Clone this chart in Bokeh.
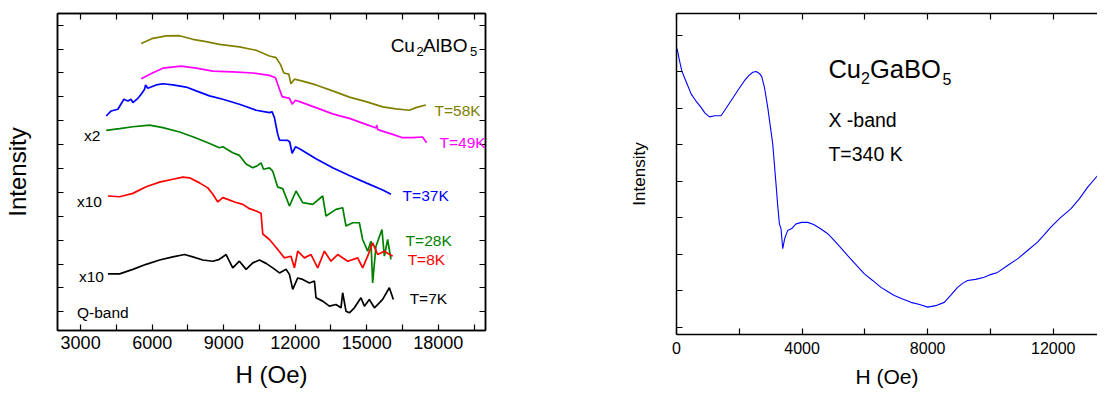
from bokeh.plotting import figure
from bokeh.models import Label, LinearAxis, FixedTicker, Range1d, CustomJSTickFormatter
from bokeh.layouts import row
from bokeh.embed import file_html
from bokeh.resources import INLINE

FONT = "Liberation Sans"

# ---------------- Left panel: Cu2AlBO5, Q-band (H in Oe, intensity arb. units, offset) -------------
h_58 = [5540, 6030, 6590, 7150, 7705, 8260, 8820, 9660, 10360, 10920, 11200, 11390, 11520, 11730,
        11820, 11970, 12310, 12870, 13570, 14270, 14970, 15670, 16220, 16790, 17060, 17480]
i_58 = [11.23, 11.45, 11.55, 11.56, 11.41, 11.31, 11.20, 11.09, 10.95, 10.71, 10.64, 10.34, 10.00, 9.95,
        9.55, 9.74, 9.66, 9.50, 9.25, 8.99, 8.80, 8.58, 8.50, 8.44, 8.55, 8.66]

h_49 = [5540, 6030, 6450, 7215, 7845, 8545, 9380, 10220, 10920, 11170, 11340, 11450, 11760, 11870,
        12010, 12180, 12870, 13570, 14270, 14970, 15390, 15415, 15460, 16090, 16500, 16920, 17340, 17510]
i_49 = [9.76, 10.01, 10.20, 10.29, 10.20, 10.08, 10.05, 10.00, 9.90, 9.80, 9.32, 9.01, 8.94, 8.69,
        8.86, 8.80, 8.55, 8.29, 8.10, 7.85, 7.70, 7.82, 7.63, 7.43, 7.29, 7.29, 7.32, 7.08]

h_37 = [4073, 4282, 4563, 4814, 4982, 5120, 5191, 5401, 5540, 5682, 5724, 5820, 6168, 6450, 6867,
        7425, 7845, 8405, 8962, 9660, 10360, 10920, 11028, 11129, 11196, 11267, 11340, 11686, 11770,
        11870, 12010, 12180, 12870, 13570, 14270, 14970, 15670, 16014]
i_37 = [8.20, 8.41, 8.48, 8.90, 8.83, 8.90, 8.76, 8.94, 9.11, 9.32, 9.50, 9.36, 9.50, 9.55, 9.50,
        9.41, 9.25, 9.04, 8.90, 8.69, 8.44, 8.34, 8.38, 8.13, 7.78, 7.43, 7.19, 7.18, 7.11,
        6.64, 6.91, 6.83, 6.41, 6.03, 5.71, 5.40, 5.10, 4.92]

h_28 = [4073, 4634, 5191, 5891, 6450, 7150, 7705, 8260, 8820, 8962, 9380, 9660, 9939, 10220, 10429,
        10567, 10668, 10920, 11057, 11267, 11476, 11757, 12034, 12314, 12733, 13152, 13291, 13710,
        13990, 14129, 14409, 14690, 14828, 15038, 15176, 15247, 15386, 15637, 15738, 15876, 16014]
i_28 = [7.60, 7.67, 7.75, 7.82, 7.71, 7.53, 7.33, 7.11, 6.87, 6.91, 6.66, 6.55, 6.19, 6.03, 6.13,
        6.24, 5.97, 6.03, 5.89, 5.22, 5.16, 4.43, 5.06, 4.57, 4.50, 4.85, 4.01, 4.29,
        4.36, 3.59, 3.73, 3.73, 3.03, 2.54, 2.96, 1.21, 2.75, 3.45, 2.33, 3.03, 2.20]

h_8 = [4144, 4634, 5191, 5749, 6310, 6867, 7286, 7567, 7986, 8334, 8545, 8753, 8962, 9172, 9453,
       9800, 10081, 10360, 10567, 10638, 10920, 11267, 11548, 11824, 11967, 12105, 12386, 12662,
       12943, 13224, 13500, 13781, 14200, 14619, 14828, 15038, 15247, 15457, 15738, 16085]
i_8 = [4.85, 4.82, 4.96, 5.24, 5.43, 5.55, 5.64, 5.61, 5.40, 5.19, 4.92, 4.60, 4.78, 4.71, 4.60,
       4.50, 4.32, 4.22, 4.13, 3.26, 3.03, 2.61, 2.26, 2.33, 1.84, 2.54, 2.26, 2.40,
       1.84, 2.54, 2.12, 2.40, 2.12, 2.26, 1.84, 2.33, 2.89, 2.40, 2.54, 2.33]

h_7 = [4144, 4634, 5191, 5749, 6310, 6867, 7358, 7705, 8124, 8545, 8820, 9101, 9380, 9660, 9939,
       10220, 10500, 10777, 11057, 11340, 11615, 11757, 11895, 12105, 12314, 12595, 12805, 12872,
       13152, 13433, 13710, 13919, 13990, 14129, 14270, 14481, 14757, 14900, 15109, 15319, 15528,
       15666, 15947, 16115]
i_7 = [1.59, 1.59, 1.78, 1.99, 2.17, 2.30, 2.40, 2.30, 2.17, 2.12, 2.20, 2.40, 1.84, 2.12, 1.78,
       2.05, 2.17, 2.03, 1.84, 1.63, 1.78, 1.57, 0.94, 1.42, 1.36, 1.21, 1.29, 0.59,
       0.45, 0.24, 0.31, 0.17, 0.80, 0.03, -0.04, 0.17, 0.59, 0.24, 0.52, 0.17, 0.38,
       0.52, 1.01, 0.52]

left_series = [
    (h_58, i_58, "#808000", "T=58K", 17845, 8.45),
    (h_49, i_49, "#ff00ff", "T=49K", 18055, 7.07),
    (h_37, i_37, "#0000ff", "T=37K", 16504, 4.89),
    (h_28, i_28, "#008000", "T=28K", 16630, 3.00),
    (h_8, i_8, "#ff0000", "T=8K", 16714, 2.21),
    (h_7, i_7, "#000000", "T=7K", 16798, 0.57),
]

left_xticks = [3000, 6000, 9000, 12000, 15000, 18000]
left_xminor = [4500, 7500, 10500, 13500, 16500, 19500]
left_yticks = list(range(13))

# ---------------- Right panel: Cu2GaBO5, X-band, T=340 K ----------------
h_ga = [20, 95, 169, 255, 360, 465, 614, 783, 901, 1050, 1219, 1420, 1569, 1738, 1951, 2164, 2301,
        2429, 2534, 2642, 2715, 2801, 2906, 2986, 3065, 3170, 3224, 3278, 3329, 3384, 3447, 3543,
        3670, 3807, 3988, 4179, 4370, 4603, 4816, 5029, 5230, 5452, 5707, 5984, 6248, 6512, 6726,
        6939, 7203, 7467, 7744, 7999, 8254, 8530, 8731, 8954, 9113, 9272, 9527, 9804, 10004, 10227,
        10545, 10864, 11182, 11500, 11723, 11924, 12232, 12560, 12837, 13092, 13410, 13674]
i_ga = [7.63, 7.30, 7.02, 6.83, 6.61, 6.39, 6.20, 6.02, 5.87, 5.76, 5.79, 5.79, 5.98, 6.20, 6.48,
        6.75, 6.89, 6.98, 7.00, 6.95, 6.86, 6.57, 6.02, 5.52, 5.02, 3.92, 3.33, 2.83, 2.70, 2.15,
        2.43, 2.65, 2.70, 2.83, 2.87, 2.87, 2.81, 2.69, 2.56, 2.37, 2.18, 1.96, 1.72, 1.46, 1.28,
        1.09, 0.98, 0.87, 0.77, 0.68, 0.62, 0.55, 0.59, 0.68, 0.87, 1.09, 1.20, 1.28, 1.31, 1.37,
        1.44, 1.50, 1.69, 1.87, 2.10, 2.33, 2.54, 2.74, 3.00, 3.24, 3.52, 3.83, 4.15, 4.33]

right_xticks = [0, 4000, 8000, 12000]
right_xminor = [2000, 6000, 10000]
right_yticks = list(range(9))


def style_axis(ax, tick_font="18px", labels=True):
    ax.axis_line_color = "black"
    ax.axis_line_width = 1.5
    ax.major_tick_in = 6
    ax.major_tick_out = 0
    ax.minor_tick_in = 6
    ax.minor_tick_out = 0
    ax.major_tick_line_width = 1.2
    ax.minor_tick_line_width = 1.2
    ax.major_tick_line_color = "black"
    ax.minor_tick_line_color = "black"
    ax.major_label_text_font = FONT
    ax.major_label_text_color = "black"
    ax.axis_label_text_font = FONT
    ax.axis_label_text_font_style = "normal"
    ax.axis_label_text_color = "black"
    if labels:
        ax.major_label_text_font_size = tick_font
    else:
        ax.formatter = CustomJSTickFormatter(code="return ''")
        ax.major_label_text_font_size = "0px"
        ax.major_label_standoff = 0


# ---------------- Left figure ----------------
p1 = figure(frame_width=428, frame_height=317, x_range=Range1d(2030, 19980),
            y_range=Range1d(-0.78, 12.49), min_border_left=54, min_border_right=112,
            min_border_top=13, min_border_bottom=60, output_backend="svg",
            toolbar_location=None, background_fill_color="white", border_fill_color="white")
p1.grid.visible = False
p1.outline_line_color = "black"
p1.outline_line_width = 1.5

p1.xaxis.ticker = FixedTicker(ticks=left_xticks, minor_ticks=left_xminor)
p1.yaxis.ticker = FixedTicker(ticks=left_yticks, minor_ticks=[])
style_axis(p1.xaxis[0], "18px", True)
p1.xaxis.axis_label = "H (Oe)"
p1.xaxis.axis_label_text_font_size = "24px"
p1.xaxis.major_label_standoff = 5
p1.xaxis.axis_label_standoff = 9
style_axis(p1.yaxis[0], labels=False)
p1.yaxis.axis_label = "Intensity"
p1.yaxis.axis_label_text_font_size = "24px"
p1.yaxis.axis_label_standoff = 27

top1 = LinearAxis(ticker=FixedTicker(ticks=left_xticks, minor_ticks=left_xminor))
style_axis(top1, labels=False)
p1.add_layout(top1, "above")
right1 = LinearAxis(ticker=FixedTicker(ticks=left_yticks, minor_ticks=[]))
style_axis(right1, labels=False)
p1.add_layout(right1, "right")

for hx, iy, col, lab, lx, ly in left_series:
    p1.line(hx, iy, line_color=col, line_width=1.7)
    p1.add_layout(Label(x=lx, y=ly, text=lab, text_color=col, text_font=FONT,
                        text_font_size="15.5px", text_baseline="middle", text_align="left"))

for txt, lx, ly in [("x2", 3138, 7.40), ("x10", 2845, 4.64), ("x10", 2929, 1.50), ("Q-band", 2845, -0.01)]:
    p1.add_layout(Label(x=lx, y=ly, text=txt, text_color="black", text_font=FONT,
                        text_font_size="15.5px", text_baseline="middle", text_align="left"))

for txt, lx, ly, fs in [("Cu", 16002, 11.16, "19px"), ("2", 17091, 10.89, "13px"),
                        ("AlBO", 17363, 11.16, "19px"), ("5", 19333, 10.89, "13px")]:
    p1.add_layout(Label(x=lx, y=ly, text=txt, text_color="black", text_font=FONT,
                        text_font_size=fs, text_baseline="alphabetic", text_align="left"))

# ---------------- Right figure ----------------
p2 = figure(frame_width=421, frame_height=321, x_range=Range1d(0, 13410),
            y_range=Range1d(-0.20, 8.59), min_border_left=79, min_border_right=0,
            min_border_top=13, min_border_bottom=56, output_backend="svg",
            toolbar_location=None, background_fill_color="white", border_fill_color="white")
p2.grid.visible = False
p2.outline_line_color = None

p2.xaxis.ticker = FixedTicker(ticks=right_xticks, minor_ticks=right_xminor)
p2.yaxis.ticker = FixedTicker(ticks=right_yticks, minor_ticks=[])
style_axis(p2.xaxis[0], "16px", True)
p2.xaxis.axis_label = "H (Oe)"
p2.xaxis.axis_label_text_font_size = "21px"
p2.xaxis.major_label_standoff = 7
p2.xaxis.axis_label_standoff = 8
style_axis(p2.yaxis[0], labels=False)
p2.yaxis.axis_label = "Intensity"
p2.yaxis.axis_label_text_font_size = "17px"
p2.yaxis.axis_label_standoff = 28

top2 = LinearAxis(ticker=FixedTicker(ticks=right_xticks, minor_ticks=right_xminor))
style_axis(top2, labels=False)
p2.add_layout(top2, "above")

p2.line(h_ga, i_ga, line_color="#0000ff", line_width=1.1)

for txt, lx, ly, fs in [("Cu", 4838, 7.07, "25.5px"), ("2", 5876, 6.83, "16px"),
                        ("GaBO", 6162, 7.07, "25.5px"), ("5", 8476, 6.80, "16px"),
                        ("X -band", 4838, 5.68, "19.5px"), ("T=340 K", 4838, 4.74, "19.5px")]:
    p2.add_layout(Label(x=lx, y=ly, text=txt, text_color="black", text_font=FONT,
                        text_font_size=fs, text_baseline="alphabetic", text_align="left"))

layout = row(p1, p2)
open("out.html", "w").write(file_html(layout, INLINE))
